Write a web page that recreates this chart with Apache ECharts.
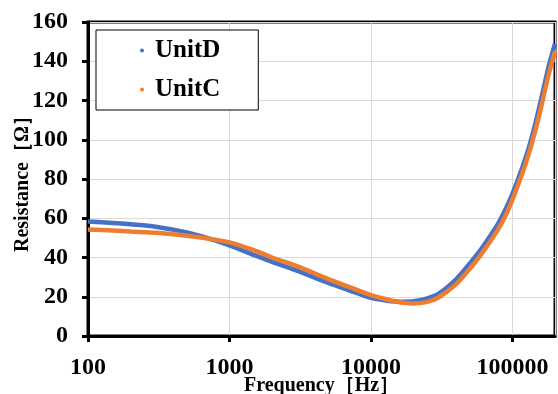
<!DOCTYPE html>
<html>
<head>
<meta charset="utf-8">
<script src="https://cdn.jsdelivr.net/npm/echarts@6/dist/echarts.min.js"></script>
<style>
  html, body { margin: 0; padding: 0; background: #fff; }
  #main { width: 558px; height: 394px; }
</style>
</head>
<body>
<div id="main"></div>
<script>
// frequency points [Hz]
const freqs = [100, 150, 200, 300, 500, 700, 1000, 1500, 2000, 3000, 5000, 7000,
  10000, 13000, 15000, 17000, 20000, 25000, 30000, 40000, 50000, 60000, 70000, 80000,
  90000, 100000, 115000, 130000, 145000, 160000, 180000, 200000];

// resistance [ohm]
const unitD = [58.4, 57.6, 56.9, 55.7, 52.8, 49.9, 46.2, 41.2, 37.8, 33.3, 27.0, 23.3,
  19.4, 18.0, 17.6, 17.5, 17.7, 19.2, 21.5, 28.9, 37.0, 44.2, 51.2, 57.8,
  65.0, 72.5, 84, 95.5, 108, 121, 137, 149];
const unitC = [54.3, 53.7, 53.2, 52.6, 51.1, 49.7, 47.7, 43.6, 40.0, 35.6, 29.0, 25.0,
  20.8, 18.6, 17.6, 16.9, 16.5, 17.4, 19.6, 26.4, 34.3, 41.5, 48.4, 54.8,
  61.8, 69.5, 81, 92.5, 104.5, 117, 133, 145];

const seriesNames = ['UnitD', 'UnitC'];
const seriesColors = ['#4472C4', '#ED7D31'];

const chart = echarts.init(document.getElementById('main'));
const font = '"Liberation Serif", "Times New Roman", serif';

const toPairs = (ys) => freqs.map((f, i) => [f, ys[i]]);

const option = {
  backgroundColor: '#fff',
  animation: false,
  grid: {
    left: 88, right: 3, top: 22, bottom: 58,
    outerBoundsMode: 'none',
    show: true,
    borderColor: '#000',
    borderWidth: 3
  },
  legend: {
    orient: 'vertical',
    left: 96, top: 30,
    backgroundColor: '#fff',
    borderColor: '#000',
    borderWidth: 1,
    padding: [8, 38, 8, 44],
    itemGap: 14,
    itemWidth: 4,
    itemHeight: 4,
    icon: 'circle',
    textStyle: {
      fontFamily: font, fontWeight: 'bold', fontSize: 25, color: '#000',
      padding: [0, 0, 0, 6]
    },
    data: seriesNames
  },
  xAxis: {
    type: 'log',
    logBase: 10,
    min: 100,
    max: 200000,
    name: 'Frequency［Hz］',
    nameLocation: 'middle',
    nameGap: 40,
    nameMoveOverlap: false,
    nameTextStyle: { fontFamily: font, fontWeight: 'bold', fontSize: 20, color: '#000' },
    axisLine: { show: true, lineStyle: { color: '#000', width: 3 } },
    axisTick: { show: true, length: 6, lineStyle: { color: '#000', width: 3 } },
    minorTick: { show: false },
    splitLine: { show: true, lineStyle: { color: '#d9d9d9', width: 1 } },
    axisLabel: {
      margin: 20,
      fontFamily: font, fontWeight: 'bold', fontSize: 24, color: '#000',
      formatter: (v) => String(Math.round(v))
    }
  },
  yAxis: {
    type: 'value',
    min: 0,
    max: 160,
    interval: 20,
    name: 'Resistance［Ω］',
    nameLocation: 'middle',
    nameGap: 55,
    nameMoveOverlap: false,
    nameTextStyle: { fontFamily: font, fontWeight: 'bold', fontSize: 20, color: '#000' },
    axisLine: { show: true, lineStyle: { color: '#000', width: 3 } },
    axisTick: { show: true, length: 6, lineStyle: { color: '#000', width: 3 } },
    splitLine: { show: true, lineStyle: { color: '#d9d9d9', width: 1 } },
    axisLabel: {
      margin: 20,
      fontFamily: font, fontWeight: 'bold', fontSize: 24, color: '#000'
    }
  },
  series: [unitD, unitC].map((ys, i) => ({
    name: seriesNames[i],
    type: 'line',
    data: toPairs(ys),
    smooth: 0.3,
    showSymbol: false,
    symbol: 'circle',
    symbolSize: 4,
    color: seriesColors[i],
    lineStyle: { width: 4.5, color: seriesColors[i] },
    clip: true
  }))
};

chart.setOption(option);
</script>
</body>
</html>
